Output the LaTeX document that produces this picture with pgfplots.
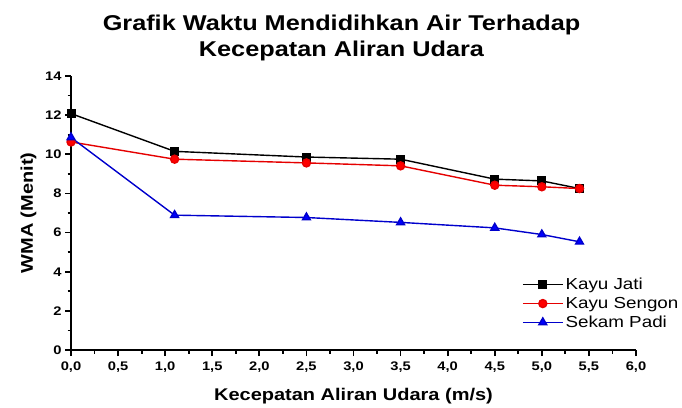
\documentclass[border=0pt]{standalone}
\usepackage{pgfplots}
\pgfplotsset{compat=1.18}
\usepackage{fontspec}
\setmainfont{Liberation Sans}[FakeStretch=1.18]
\begin{document}
\begin{tikzpicture}[x=1bp,y=1bp]
\begin{axis}[
  scale only axis,
  width=565bp, height=274bp,
  xmin=0, xmax=6, ymin=0, ymax=14,
  axis x line*=bottom, axis y line*=left,
  axis line style={line width=2.8bp},
  xtick={0,0.5,...,6}, ytick={0,2,...,14},
  minor x tick num=1, minor y tick num=1,
  tick align=outside,
  major tick length=6bp, minor tick length=3.5bp,
  every tick/.style={line width=1.8bp, black},
  /pgf/number format/assume math mode=true,
  xticklabel style={yshift=-2bp, /pgf/number format/.cd, use comma, fixed, fixed zerofill, precision=1},
  ticklabel style={font=\fontsize{12.5}{14}\selectfont\bfseries},
  xlabel={Kecepatan Aliran Udara (m/s)},
  ylabel={WMA (Menit)},
  label style={font=\fontsize{17}{19}\selectfont\bfseries},
  xlabel style={yshift=-9bp},
  ylabel style={yshift=2bp},
  title={Grafik Waktu Mendidihkan Air Terhadap\\Kecepatan Aliran Udara},
  title style={font=\fontsize{21.5}{25.5}\selectfont\bfseries, align=center, yshift=6bp, xshift=-12bp},
  legend style={draw=none, fill=none, at={(1.079,0.27)}, anchor=north east,
    font=\fontsize{16}{18}\selectfont, row sep=2bp, inner sep=0pt},
  legend image code/.code={\draw[mark repeat=2,mark phase=2] plot coordinates {(0bp,0bp) (20bp,0bp) (40bp,0bp)};},
  legend cell align=left,
  clip=false,
]
\addplot[black, line width=1.4bp, mark=square*, mark size=3.8bp] coordinates {
(0,12.08) (1.1,10.15) (2.5,9.86) (3.5,9.75) (4.5,8.73) (5.0,8.64) (5.4,8.25)};
\addlegendentry{Kayu Jati}
\addplot[red!90!black, line width=1.4bp, mark=*, mark size=4bp, mark options={fill=red}] coordinates {
(0,10.63) (1.1,9.75) (2.5,9.56) (3.5,9.41) (4.5,8.42) (5.0,8.34) (5.4,8.25)};
\addlegendentry{Kayu Sengon}
\addplot[blue!80!black, line width=1.4bp, mark=triangle*, mark size=4.5bp, mark options={fill=blue}] coordinates {
(0,10.86) (1.1,6.89) (2.5,6.77) (3.5,6.52) (4.5,6.24) (5.0,5.9) (5.4,5.53)};
\addlegendentry{Sekam Padi}
\path[use as bounding box] (rel axis cs:-0.1257,-0.1934) rectangle (rel axis cs:1.0814,1.2774);
\end{axis}
\end{tikzpicture}
\end{document}
